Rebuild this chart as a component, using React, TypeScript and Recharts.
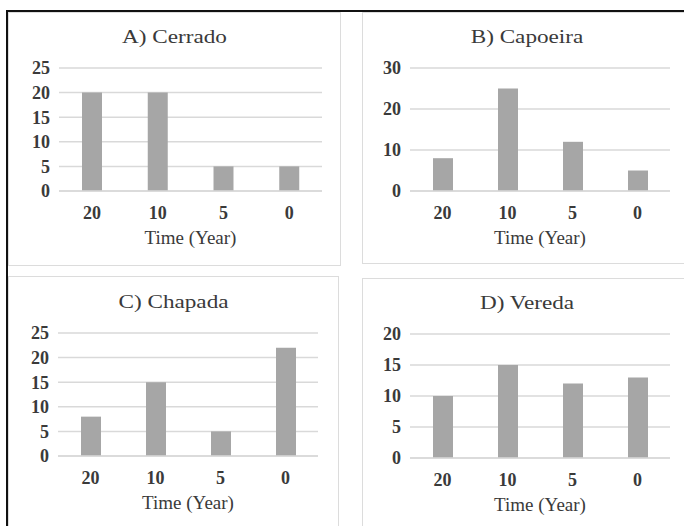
import { Bar, BarChart, CartesianGrid, XAxis, YAxis } from "recharts";

const years = ["20", "10", "5", "0"];
const cerrado = [20, 20, 5, 5];
const capoeira = [8, 25, 12, 5];
const chapada = [8, 15, 5, 22];
const vereda = [10, 15, 12, 13];

const FONT = "'Liberation Serif', 'Times New Roman', serif";
const TEXT = "#3a3a3a";
const BAR = "#a6a6a6";
const GRID = "#d9d9d9";

type PanelProps = {
  title: string;
  values: number[];
  ticks: number[];
  box: { left: number; top: number; width: number; height: number };
  plot: { left: number; right: number; top: number; bottom: number };
};

function Panel({ title, values, ticks, box, plot }: PanelProps) {
  const data = years.map((y, i) => ({ year: y, value: values[i] }));
  const yWidth = 40;
  const xHeight = 56;
  // plot coords are page coords, turn them into chart margins
  const ox = box.left + 1;
  const oy = box.top + 1;
  const w = box.width - 2;
  const h = box.height - 2;
  const margin = {
    left: plot.left - ox - yWidth,
    right: ox + w - plot.right,
    top: plot.top - oy,
    bottom: oy + h - plot.bottom - xHeight,
  };
  const tick = { fill: TEXT, fontSize: 18, fontFamily: FONT, fontWeight: 700 };
  return (
    <div
      style={{
        position: "absolute",
        left: box.left,
        top: box.top,
        width: box.width,
        height: box.height,
        border: "1px solid #dcdcdc",
        boxSizing: "border-box",
        background: "#fff",
      }}
    >
      <div
        style={{
          position: "absolute",
          left: 0,
          right: 0,
          top: plot.top - oy - 42,
          textAlign: "center",
          fontFamily: FONT,
          fontSize: 19,
          color: TEXT,
          transform: "scaleX(1.22)",
        }}
      >
        {title}
      </div>
      <div style={{ position: "absolute", left: 0, top: 0 }}>
        <BarChart width={w} height={h} data={data} margin={margin}>
          <CartesianGrid vertical={false} stroke={GRID} strokeWidth={1.5} />
          <XAxis
            dataKey="year"
            height={xHeight}
            axisLine={{ stroke: GRID, strokeWidth: 1.5 }}
            tickLine={false}
            tickSize={0}
            tickMargin={15}
            tick={tick}
            label={{
              value: "Time (Year)",
              position: "insideBottom",
              offset: 3,
              fill: TEXT,
              fontSize: 19,
              fontFamily: FONT,
            }}
          />
          <YAxis
            width={yWidth}
            domain={[ticks[0], ticks[ticks.length - 1]]}
            ticks={ticks}
            axisLine={false}
            tickLine={false}
            tickSize={0}
            tickMargin={9}
            tick={tick}
            interval={0}
          />
          <Bar dataKey="value" fill={BAR} barSize={20} isAnimationActive={false} />
        </BarChart>
      </div>
    </div>
  );
}

export default function App() {
  return (
    <div
      style={{
        position: "absolute",
        left: 0,
        top: 0,
        width: 684,
        height: 526,
        overflow: "hidden",
        background: "#fff",
      }}
    >
      <Panel
        title="A) Cerrado"
        values={cerrado}
        ticks={[0, 5, 10, 15, 20, 25]}
        box={{ left: 8, top: 12, width: 333, height: 254 }}
        plot={{ left: 59, right: 322, top: 68, bottom: 191 }}
      />
      <Panel
        title="B) Capoeira"
        values={capoeira}
        ticks={[0, 10, 20, 30]}
        box={{ left: 362, top: 12, width: 330, height: 252 }}
        plot={{ left: 410, right: 670, top: 68, bottom: 191 }}
      />
      <Panel
        title="C) Chapada"
        values={chapada}
        ticks={[0, 5, 10, 15, 20, 25]}
        box={{ left: 8, top: 276, width: 331, height: 262 }}
        plot={{ left: 58, right: 318, top: 333, bottom: 456 }}
      />
      <Panel
        title="D) Vereda"
        values={vereda}
        ticks={[0, 5, 10, 15, 20]}
        box={{ left: 362, top: 278, width: 330, height: 262 }}
        plot={{ left: 410, right: 670, top: 334, bottom: 458 }}
      />
      <div
        style={{
          position: "absolute",
          left: 6,
          top: 10,
          width: 700,
          height: 540,
          borderTop: "2px solid #111",
          borderLeft: "2px solid #111",
          pointerEvents: "none",
        }}
      />
    </div>
  );
}
